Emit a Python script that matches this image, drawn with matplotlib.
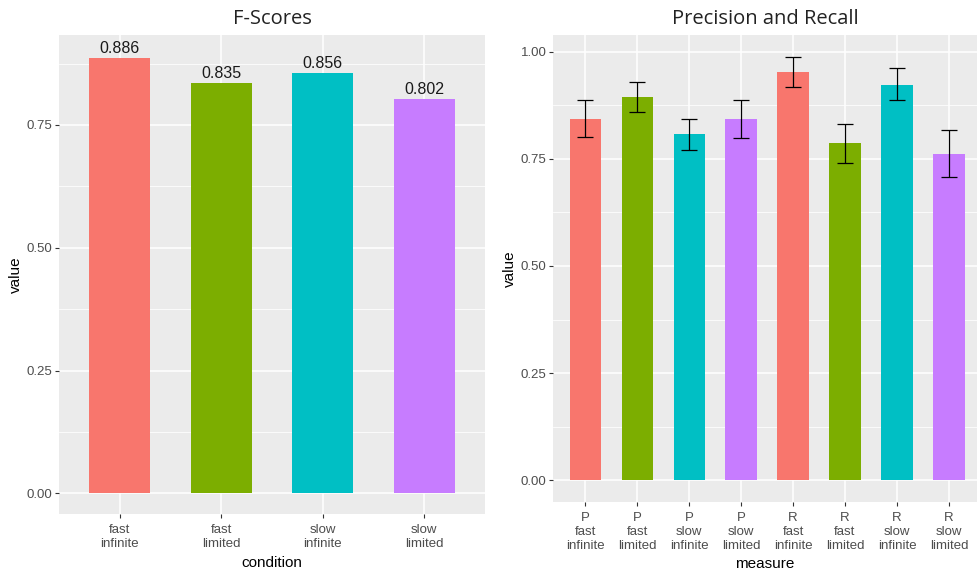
import matplotlib
matplotlib.use('Agg')
import matplotlib.pyplot as plt
from matplotlib.ticker import MultipleLocator

plt.rcParams['font.family'] = ['Liberation Sans', 'DejaVu Sans']

# F-scores
conditions = ['fast\ninfinite', 'fast\nlimited', 'slow\ninfinite', 'slow\nlimited']
f_scores = [0.886, 0.835, 0.856, 0.802]

# precision / recall with error bars
measures = ['P\nfast\ninfinite', 'P\nfast\nlimited', 'P\nslow\ninfinite', 'P\nslow\nlimited',
            'R\nfast\ninfinite', 'R\nfast\nlimited', 'R\nslow\ninfinite', 'R\nslow\nlimited']
pr_values = [0.843, 0.895, 0.807, 0.843, 0.952, 0.786, 0.923, 0.762]
pr_low = [0.801, 0.858, 0.770, 0.798, 0.917, 0.739, 0.886, 0.708]
pr_high = [0.886, 0.930, 0.842, 0.886, 0.987, 0.832, 0.961, 0.816]

hue = ['#F8766D', '#7CAE00', '#00BFC4', '#C77CFF']

fig = plt.figure(figsize=(9.77, 5.72), dpi=100)
ax1 = fig.add_axes([0.0604, 0.1014, 0.436, 0.8374])
ax2 = fig.add_axes([0.566, 0.1224, 0.434, 0.8164])


def gg_style(ax):
    ax.set_facecolor('#EBEBEB')
    for s in ax.spines.values():
        s.set_visible(False)
    ax.yaxis.set_major_locator(MultipleLocator(0.25))
    ax.yaxis.set_minor_locator(MultipleLocator(0.125))
    ax.grid(which='major', color='white', linewidth=1.1)
    ax.grid(which='minor', axis='y', color='white', linewidth=0.55)
    ax.set_axisbelow(True)
    ax.tick_params(which='major', length=2.6, width=0.8, color='#333333',
                   labelcolor='#4D4D4D', labelsize=9.5, pad=2)
    ax.tick_params(axis='x', pad=4.5)
    ax.tick_params(which='minor', length=0)
    ax.yaxis.set_major_formatter(plt.FuncFormatter(lambda v, p: f'{v:.2f}'))


# left chart
x1 = list(range(1, len(conditions) + 1))
gg_style(ax1)
ax1.bar(x1, f_scores, width=0.6, color=hue, zorder=2)
for xi, v in zip(x1, f_scores):
    ax1.annotate(f'{v:.3f}', (xi, v), xytext=(0, 1.5), textcoords='offset points',
                 ha='center', va='bottom', fontsize=11.5, color='#1A1A1A')
ax1.set_xlim(0.4, 4.6)
ax1.set_ylim(-0.042, 0.933)
ax1.set_xticks(x1)
ax1.set_xticklabels(conditions, linespacing=1.25)
ax1.set_xlabel('condition', fontsize=11, labelpad=4)
ax1.set_ylabel('value', fontsize=11, labelpad=3)
ax1.set_title('F-Scores', fontsize=14.5, family='Open Sans', color='#222222', pad=8)

# right chart
x2 = list(range(1, len(measures) + 1))
gg_style(ax2)
ax2.bar(x2, pr_values, width=0.6, color=hue * 2, zorder=2)
err = [[v - lo for v, lo in zip(pr_values, pr_low)],
       [hi - v for v, hi in zip(pr_values, pr_high)]]
ax2.errorbar(x2, pr_values, yerr=err, fmt='none', ecolor='black', elinewidth=0.9,
             capsize=5.8, capthick=0.9, zorder=3)
ax2.set_xlim(0.38, 8.54)
ax2.set_ylim(-0.0506, 1.0387)
ax2.set_xticks(x2)
ax2.set_xticklabels(measures, linespacing=1.25)
ax2.set_xlabel('measure', fontsize=11, labelpad=3)
ax2.set_ylabel('value', fontsize=11, labelpad=3)
ax2.set_title('Precision and Recall', fontsize=14.5, family='Open Sans', color='#222222', pad=8)

fig.savefig('out.png', dpi=100)
